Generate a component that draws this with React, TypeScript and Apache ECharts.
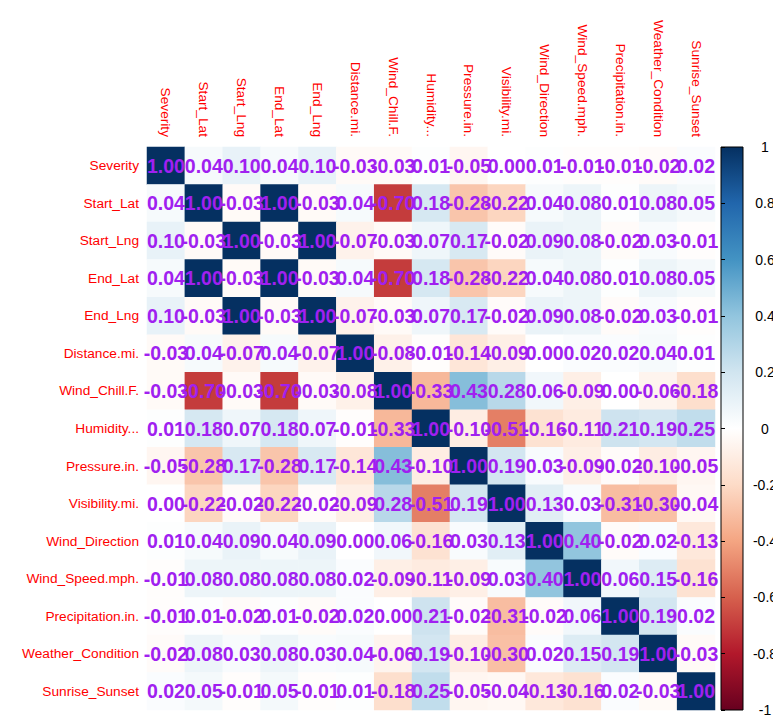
import React, { useEffect, useRef } from "react";
import * as echarts from "echarts";

const variables = [
  "Severity", "Start_Lat", "Start_Lng", "End_Lat", "End_Lng", "Distance.mi.",
  "Wind_Chill.F.", "Humidity...", "Pressure.in.", "Visibility.mi.", "Wind_Direction",
  "Wind_Speed.mph.", "Precipitation.in.", "Weather_Condition", "Sunrise_Sunset",
];

const rowSeverity = [1.00, 0.04, 0.10, 0.04, 0.10, -0.03, -0.03, 0.01, -0.05, 0.00, 0.01, -0.01, -0.01, -0.02, 0.02];
const rowStartLat = [0.04, 1.00, -0.03, 1.00, -0.03, 0.04, -0.70, 0.18, -0.28, -0.22, 0.04, 0.08, 0.01, 0.08, 0.05];
const rowStartLng = [0.10, -0.03, 1.00, -0.03, 1.00, -0.07, -0.03, 0.07, 0.17, -0.02, 0.09, 0.08, -0.02, 0.03, -0.01];
const rowEndLat = [0.04, 1.00, -0.03, 1.00, -0.03, 0.04, -0.70, 0.18, -0.28, -0.22, 0.04, 0.08, 0.01, 0.08, 0.05];
const rowEndLng = [0.10, -0.03, 1.00, -0.03, 1.00, -0.07, -0.03, 0.07, 0.17, -0.02, 0.09, 0.08, -0.02, 0.03, -0.01];
const rowDistance = [-0.03, 0.04, -0.07, 0.04, -0.07, 1.00, -0.08, -0.01, -0.14, -0.09, 0.00, 0.02, 0.02, 0.04, 0.01];
const rowWindChill = [-0.03, -0.70, -0.03, -0.70, -0.03, -0.08, 1.00, -0.33, 0.43, 0.28, 0.06, -0.09, 0.00, -0.06, -0.18];
const rowHumidity = [0.01, 0.18, 0.07, 0.18, 0.07, -0.01, -0.33, 1.00, -0.10, -0.51, -0.16, -0.11, 0.21, 0.19, 0.25];
const rowPressure = [-0.05, -0.28, 0.17, -0.28, 0.17, -0.14, 0.43, -0.10, 1.00, 0.19, 0.03, -0.09, -0.02, -0.10, -0.05];
const rowVisibility = [0.00, -0.22, -0.02, -0.22, -0.02, -0.09, 0.28, -0.51, 0.19, 1.00, 0.13, 0.03, -0.31, -0.30, -0.04];
const rowWindDirection = [0.01, 0.04, 0.09, 0.04, 0.09, 0.00, 0.06, -0.16, 0.03, 0.13, 1.00, 0.40, -0.02, 0.02, -0.13];
const rowWindSpeed = [-0.01, 0.08, 0.08, 0.08, 0.08, 0.02, -0.09, -0.11, -0.09, 0.03, 0.40, 1.00, 0.06, 0.15, -0.16];
const rowPrecipitation = [-0.01, 0.01, -0.02, 0.01, -0.02, 0.02, 0.00, 0.21, -0.02, -0.31, -0.02, 0.06, 1.00, 0.19, 0.02];
const rowWeather = [-0.02, 0.08, 0.03, 0.08, 0.03, 0.04, -0.06, 0.19, -0.10, -0.30, 0.02, 0.15, 0.19, 1.00, -0.03];
const rowSunrise = [0.02, 0.05, -0.01, 0.05, -0.01, 0.01, -0.18, 0.25, -0.05, -0.04, -0.13, -0.16, 0.02, -0.03, 1.00];

const corrRows = [
  rowSeverity, rowStartLat, rowStartLng, rowEndLat, rowEndLng, rowDistance,
  rowWindChill, rowHumidity, rowPressure, rowVisibility, rowWindDirection,
  rowWindSpeed, rowPrecipitation, rowWeather, rowSunrise,
];

const legendTicks = { min: -1, max: 1, interval: 0.2 };

const rdbu = [
  "#67001F", "#B2182B", "#D6604D", "#F4A582", "#FDDBC7", "#FFFFFF",
  "#D1E5F0", "#92C5DE", "#4393C3", "#2166AC", "#053061",
];

export default function App() {
  const ref = useRef<HTMLDivElement>(null);
  useEffect(() => {
    if (!ref.current) return;
    const chart = echarts.init(ref.current, null, { renderer: "svg" });
    const data: any[] = [];
    corrRows.forEach((row, r) => {
      row.forEach((v, c) => data.push([c, r, v]));
    });
    const gl = 147, gt = 147, gw = 568, gh = 563;
    const cbx = 721, cbw = 22;
    const stops = rdbu
      .slice()
      .reverse()
      .map((c, i) => ({ offset: i / (rdbu.length - 1), color: c }));
    chart.setOption({
      animation: false,
      backgroundColor: "#fff",
      grid: [
        { left: gl, top: gt, width: gw, height: gh, outerBoundsMode: "none", containLabel: false },
        { left: cbx, top: gt, width: cbw, height: gh, outerBoundsMode: "none", containLabel: false },
      ],
      xAxis: [
        {
          type: "category",
          data: variables,
          position: "top",
          gridIndex: 0,
          axisLine: { show: false },
          axisTick: { show: false },
          splitLine: { show: false },
          axisLabel: {
            rotate: 90,
            color: "#FF0000",
            fontSize: 13.7,
            fontFamily: "Liberation Sans, Arial, sans-serif",
            margin: 10,
            interval: 0,
          },
        },
        { type: "value", gridIndex: 1, show: false, min: 0, max: 1 },
      ],
      yAxis: [
        {
          type: "category",
          data: variables,
          inverse: true,
          gridIndex: 0,
          axisLine: { show: false },
          axisTick: { show: false },
          splitLine: { show: false },
          axisLabel: {
            color: "#FF0000",
            fontSize: 13.7,
            fontFamily: "Liberation Sans, Arial, sans-serif",
            margin: 8,
            interval: 0,
          },
        },
        {
          type: "value",
          gridIndex: 1,
          min: legendTicks.min,
          max: legendTicks.max,
          interval: legendTicks.interval,
          position: "right",
          axisLine: { show: false },
          splitLine: { show: false },
          axisTick: { show: true, length: 4, lineStyle: { color: "#000", width: 1 } },
          axisLabel: {
            color: "#000",
            fontSize: 14,
            fontFamily: "Liberation Sans, Arial, sans-serif",
            margin: 22,
            align: "center",
            formatter: (v: number) => String(Math.round(v * 10) / 10),
          },
        },
      ],
      visualMap: {
        show: false,
        type: "continuous",
        min: -1,
        max: 1,
        dimension: 2,
        seriesIndex: 0,
        inRange: { color: rdbu },
      },
      graphic: [
        {
          type: "rect",
          shape: { x: cbx, y: gt, width: cbw, height: gh },
          style: {
            fill: new echarts.graphic.LinearGradient(0, 0, 0, 1, stops),
            stroke: "#000",
            lineWidth: 1,
          },
          z: -1,
        },
      ],
      series: [
        {
          type: "heatmap",
          xAxisIndex: 0,
          yAxisIndex: 0,
          data,
          itemStyle: { borderWidth: 0 },
          label: {
            show: true,
            color: "#A020F0",
            fontSize: 19.5,
            fontWeight: "bold",
            fontFamily: "Liberation Sans, Arial, sans-serif",
            formatter: (p: any) => Number(p.value[2]).toFixed(2),
          },
          emphasis: { disabled: true },
        },
      ],
    });
    return () => chart.dispose();
  }, []);
  return (
    <div
      ref={ref}
      style={{ position: "fixed", left: 0, top: 0, width: 773, height: 719 }}
    />
  );
}
